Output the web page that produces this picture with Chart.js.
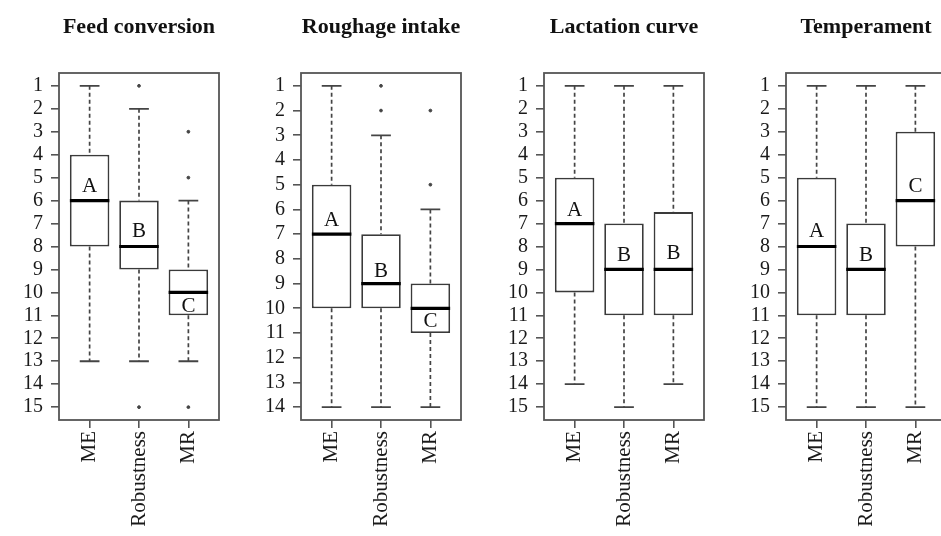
<!DOCTYPE html>
<html>
<head>
<meta charset="utf-8">
<script src="https://cdn.jsdelivr.net/npm/chart.js@4.4.0/dist/chart.umd.min.js"></script>
<style>
  html, body { margin:0; padding:0; background:#fff; width:941px; height:536px; overflow:hidden; position:relative; }
  canvas { position:absolute; top:0; }
</style>
</head>
<body>
<canvas id="c0" width="280" height="536"></canvas>
<canvas id="c1" width="280" height="536"></canvas>
<canvas id="c2" width="280" height="536"></canvas>
<canvas id="c3" width="280" height="536"></canvas>
<script>
// ---- data ----
const categories = ['ME', 'Robustness', 'MR'];
const panelTitles = ['Feed conversion', 'Roughage intake', 'Lactation curve', 'Temperament'];
const rankMax = [15, 14, 15, 15];
const whiskerLow  = [[1, 2, 6], [1, 3, 6], [1, 1, 1], [1, 1, 1]];
const boxQ1       = [[4, 6, 9], [5, 7, 9], [5, 7, 6.5], [5, 7, 3]];
const medians     = [[6, 8, 10], [7, 9, 10], [7, 9, 9], [8, 9, 6]];
const boxQ3       = [[8, 9, 11], [10, 10, 11], [10, 11, 11], [11, 11, 8]];
const whiskerHigh = [[13, 13, 13], [14, 14, 14], [14, 15, 14], [15, 15, 15]];
const outliers    = [[[], [1, 15], [3, 5, 15]], [[], [1, 2], [2, 5]], [[], [], []], [[], [], []]];
const letters     = [['A', 'B', 'C'], ['A', 'B', 'C'], ['A', 'B', 'B'], ['A', 'B', 'C']];
const letterAt    = [[5.4, 7.35, 10.6], [6.43, 8.52, 10.54], [6.41, 8.37, 8.3], [7.35, 8.37, 5.39]];

// ---- layout ----
const frameLefts = [59, 301, 544, 786];
const AXW = 60;

const serif = '"Liberation Serif", "DejaVu Serif", serif';

function makePanel(p) {
  const canvas = document.getElementById('c' + p);
  canvas.style.left = (frameLefts[p] - AXW) + 'px';
  const n = rankMax[p];
  const ext = 0.04 * (n - 1);

  const boxes = categories.map((c, i) => ({ x: i + 1, y: [boxQ1[p][i], boxQ3[p][i]] }));
  const whiskers = [];
  const caps = [];
  const meds = [];
  const outs = [];
  categories.forEach((c, i) => {
    const x = i + 1;
    whiskers.push({ x, y: whiskerLow[p][i] }, { x, y: boxQ1[p][i] }, { x, y: null });
    whiskers.push({ x, y: boxQ3[p][i] }, { x, y: whiskerHigh[p][i] }, { x, y: null });
    caps.push({ x: x - 0.2, y: whiskerLow[p][i] }, { x: x + 0.2, y: whiskerLow[p][i] }, { x, y: null });
    caps.push({ x: x - 0.2, y: whiskerHigh[p][i] }, { x: x + 0.2, y: whiskerHigh[p][i] }, { x, y: null });
    meds.push({ x: x - 0.4, y: medians[p][i] }, { x: x + 0.4, y: medians[p][i] }, { x, y: null });
    outliers[p][i].forEach(v => outs.push({ x, y: v }));
  });

  const framePlugin = {
    id: 'frame' + p,
    afterDatasetsDraw(chart) {
      const a = chart.chartArea, ctx = chart.ctx;
      ctx.save();
      ctx.strokeStyle = '#555';
      ctx.lineWidth = 1.8;
      ctx.strokeRect(a.left, a.top, a.right - a.left, a.bottom - a.top);
      // letters
      const xs = chart.scales.x, ys = chart.scales.y;
      ctx.fillStyle = '#111';
      ctx.font = '21px ' + serif;
      ctx.textAlign = 'center';
      ctx.textBaseline = 'middle';
      categories.forEach((c, i) => {
        ctx.fillText(letters[p][i], xs.getPixelForValue(i + 1), ys.getPixelForValue(letterAt[p][i]));
      });
      // title
      ctx.fillStyle = '#111';
      ctx.font = 'bold 22px ' + serif;
      ctx.textBaseline = 'alphabetic';
      ctx.fillText(panelTitles[p], (a.left + a.right) / 2, 33);
      ctx.restore();
    }
  };

  new Chart(canvas, {
    type: 'bar',
    data: {
      datasets: [
        {
          type: 'bar', data: boxes, backgroundColor: '#ffffff', borderColor: '#3a3a3a',
          borderWidth: 1.8, borderSkipped: false, barPercentage: 0.8, categoryPercentage: 1.0, order: 3
        },
        {
          type: 'line', data: whiskers, borderColor: '#444', borderWidth: 1.7, borderDash: [4, 3],
          pointRadius: 0, spanGaps: false, fill: false, order: 2
        },
        {
          type: 'line', data: caps, borderColor: '#444', borderWidth: 1.8,
          pointRadius: 0, spanGaps: false, fill: false, order: 2
        },
        {
          type: 'line', data: meds, borderColor: '#000', borderWidth: 3.2,
          pointRadius: 0, spanGaps: false, fill: false, order: 1
        },
        {
          type: 'scatter', data: outs, backgroundColor: '#444', borderColor: '#444',
          pointRadius: 1.4, showLine: false, order: 1
        }
      ]
    },
    options: {
      responsive: false,
      animation: false,
      devicePixelRatio: 1,
      layout: { padding: { top: 73, right: AXW, left: 0, bottom: 0 } },
      plugins: { legend: { display: false }, tooltip: { enabled: false }, title: { display: false } },
      scales: {
        x: {
          type: 'linear', min: 0.38, max: 3.62, offset: false,
          afterBuildTicks: s => { s.ticks = categories.map((c, i) => ({ value: i + 1 })); },
          afterFit: s => { s.height = 116; },
          ticks: {
            callback: v => categories[v - 1],
            font: { family: serif, size: 21 }, color: '#1a1a1a',
            minRotation: 90, maxRotation: 90, autoSkip: false, padding: 3
          },
          grid: { drawOnChartArea: false, drawTicks: true, tickLength: 8, color: '#555', lineWidth: 1.6, offset: false },
          border: { display: false }
        },
        y: {
          type: 'linear', reverse: true, min: 1 - ext, max: n + ext,
          afterBuildTicks: s => { const t = []; for (let k = 1; k <= n; k++) t.push({ value: k }); s.ticks = t; },
          afterFit: s => { s.width = AXW; },
          ticks: { font: { family: serif, size: 20 }, color: '#1a1a1a', padding: 8, autoSkip: false },
          grid: { drawOnChartArea: false, drawTicks: true, tickLength: 8, color: '#555', lineWidth: 1.6 },
          border: { display: false }
        }
      }
    },
    plugins: [framePlugin]
  });
}

for (let p = 0; p < 4; p++) makePanel(p);
</script>
</body>
</html>
